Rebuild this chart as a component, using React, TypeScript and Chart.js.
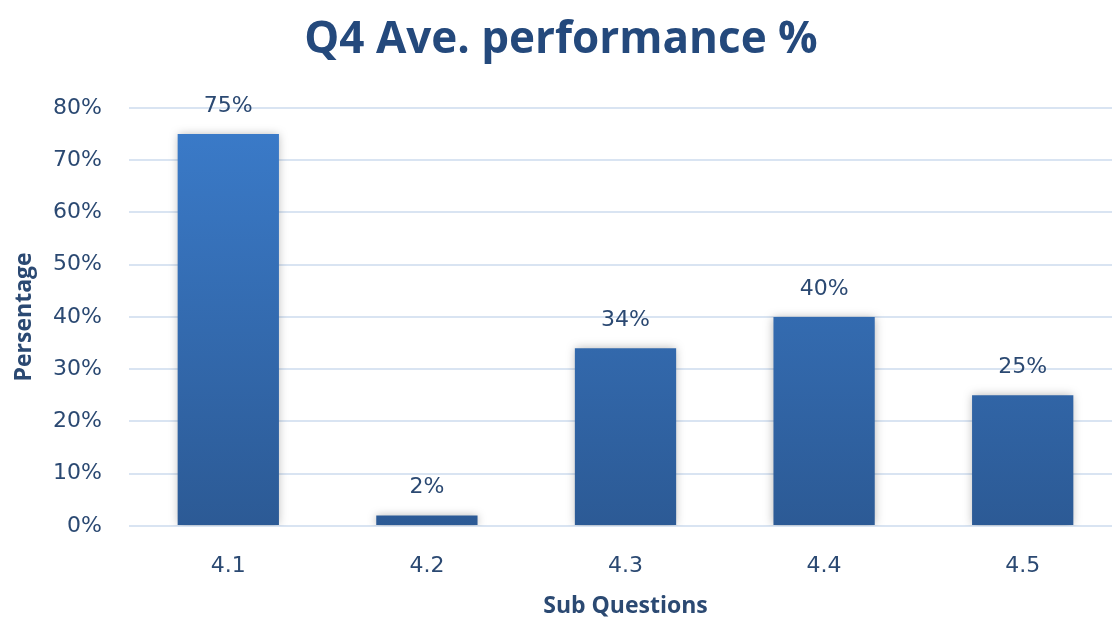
import React, { useEffect, useRef } from "react";
import { Chart, registerables } from "chart.js";

Chart.register(...registerables);

const categories = ["4.1", "4.2", "4.3", "4.4", "4.5"];
const performance = [75, 2, 34, 40, 25];
const yTicks = [0, 10, 20, 30, 40, 50, 60, 70, 80];

const titleText = "Q4 Ave. performance %";
const xTitle = "Sub Questions";
const yTitle = "Persentage";

const textBlue = "#2B4972";
const titleBlue = "#24497C";
const gridBlue = "#D9E4F2";
const TITLE_FONT = "'Open Sans', sans-serif";
const TICK_FONT = "'DejaVu Sans', sans-serif";

// Value labels drawn just above each bar
const valueLabels = {
  id: "valueLabels",
  afterDatasetsDraw(chart: any) {
    const { ctx } = chart;
    const meta = chart.getDatasetMeta(0);
    ctx.save();
    ctx.font = `22px ${TICK_FONT}`;
    ctx.fillStyle = textBlue;
    ctx.textAlign = "center";
    ctx.textBaseline = "middle";
    meta.data.forEach((bar: any, i: number) => {
      ctx.fillText(`${performance[i]}%`, bar.x, bar.y - 28);
    });
    ctx.restore();
  },
};

// Soft shadow around the bars
const barShadow = {
  id: "barShadow",
  beforeDatasetsDraw(chart: any) {
    const ctx = chart.ctx;
    ctx.save();
    ctx.shadowColor = "rgba(0,0,0,0.28)";
    ctx.shadowBlur = 9;
    ctx.shadowOffsetX = 0;
    ctx.shadowOffsetY = 0;
  },
  afterDatasetsDraw(chart: any) {
    chart.ctx.restore();
  },
};

export default function App() {
  const canvasRef = useRef<HTMLCanvasElement>(null);

  useEffect(() => {
    const canvas = canvasRef.current;
    if (!canvas) return;
    const chart = new Chart(canvas, {
      type: "bar",
      data: {
        labels: categories,
        datasets: [
          {
            data: performance,
            backgroundColor: (context: any) => {
              const area = context.chart.chartArea;
              if (!area) return "#3570B8";
              const y0 = context.chart.scales.y.getPixelForValue(0);
              const el = context.element;
              const top = el && typeof el.y === "number" ? el.y : area.top;
              const g = context.chart.ctx.createLinearGradient(0, top, 0, y0);
              g.addColorStop(0, "#3B7CCB");
              g.addColorStop(1, "#2C5A95");
              return g;
            },
            borderWidth: 0,
            barPercentage: 0.51,
            categoryPercentage: 1,
          },
        ],
      },
      options: {
        responsive: false,
        animation: false,
        layout: { padding: 0 },
        plugins: {
          legend: { display: false },
          tooltip: { enabled: false },
          title: {
            display: true,
            text: titleText,
            color: titleBlue,
            font: { family: TITLE_FONT, size: 44, weight: "bold" },
            padding: { top: 14, bottom: 41 },
          },
        },
        scales: {
          x: {
            grid: { display: false },
            border: { display: false },
            ticks: {
              color: textBlue,
              font: { family: TICK_FONT, size: 22 },
              padding: 19,
            },
            title: {
              display: true,
              text: xTitle,
              color: textBlue,
              font: { family: TITLE_FONT, size: 23, weight: "bold" },
              padding: { top: 0, bottom: 5 },
            },
            afterFit: (s: any) => {
              s.height = 99;
            },
          },
          y: {
            min: 0,
            max: 80,
            afterBuildTicks: (s: any) => {
              s.ticks = yTicks.map((v) => ({ value: v }));
            },
            grid: { color: gridBlue, lineWidth: 2, drawTicks: false },
            border: { display: false },
            ticks: {
              color: textBlue,
              font: { family: TICK_FONT, size: 22 },
              padding: 27,
              callback: (v: any) => `${v}%`,
            },
            title: {
              display: true,
              text: yTitle,
              color: textBlue,
              font: { family: TITLE_FONT, size: 23, weight: "bold" },
              padding: { top: 11, bottom: 0 },
            },
            afterFit: (s: any) => {
              s.width = 129;
            },
          },
        },
      },
      plugins: [barShadow, valueLabels],
    });
    return () => chart.destroy();
  }, []);

  return (
    <div
      style={{
        position: "fixed",
        left: 0,
        top: 0,
        width: 1112,
        height: 617,
        overflow: "hidden",
        background: "#ffffff",
      }}
    >
      <canvas ref={canvasRef} width={1122} height={625} style={{ display: "block" }} />
    </div>
  );
}
